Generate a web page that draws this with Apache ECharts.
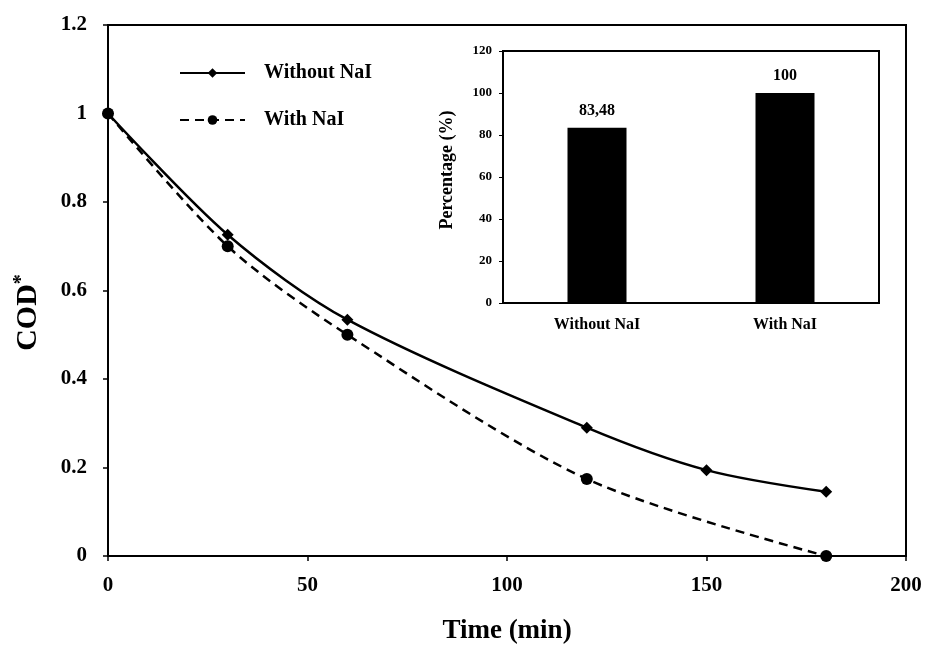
<!DOCTYPE html>
<html>
<head>
<meta charset="utf-8">
<script src="https://cdn.jsdelivr.net/npm/echarts@6/dist/echarts.min.js"></script>
<style>
  html, body { margin: 0; padding: 0; background: #fff; }
  #chart { width: 925px; height: 650px; }
</style>
</head>
<body>
<div id="chart"></div>
<script>
// COD* decay over time, with and without NaI
const timeWithout = [0, 30, 60, 120, 150, 180];
const codWithout = [1, 0.726, 0.534, 0.29, 0.194, 0.145];
const timeWith = [0, 30, 60, 120, 180];
const codWith = [1, 0.70, 0.50, 0.174, 0];

// Inset: removal percentage
const insetCategories = ['Without NaI', 'With NaI'];
const insetValues = [83.48, 100];

const seriesNames = ['Without NaI', 'With NaI'];

const serif = '"Liberation Serif", "Times New Roman", serif';
const black = '#000';

const zip = (xs, ys) => xs.map((x, i) => [x, ys[i]]);

const chart = echarts.init(document.getElementById('chart'));
chart.setOption({
  animation: false,
  backgroundColor: '#fff',
  textStyle: { fontFamily: serif, color: black },
  legend: {
    data: seriesNames,
    orient: 'vertical',
    left: 174,
    top: 58,
    itemWidth: 65,
    itemHeight: 12,
    itemGap: 27,
    textStyle: { fontFamily: serif, fontWeight: 'bold', fontSize: 20, color: black, padding: [0, 0, 0, 14] }
  },
  grid: [
    { left: 108, right: 19, top: 25, bottom: 88, show: true, borderColor: black, borderWidth: 2, backgroundColor: 'transparent' },
    { left: 503, right: 46, top: 51, bottom: 347, show: true, borderColor: black, borderWidth: 2, backgroundColor: '#fff', z: 5 }
  ],
  xAxis: [
    {
      gridIndex: 0, type: 'value', min: 0, max: 200, interval: 50,
      name: 'Time (min)', nameLocation: 'middle', nameGap: 62,
      nameTextStyle: { fontFamily: serif, fontWeight: 'bold', fontSize: 27, color: black },
      axisLine: { lineStyle: { color: black, width: 2 } },
      axisTick: { show: true, inside: false, length: 5, lineStyle: { color: black, width: 1.5 } },
      axisLabel: { fontFamily: serif, fontWeight: 'bold', fontSize: 21, color: black, margin: 19 },
      splitLine: { show: false }
    },
    {
      gridIndex: 1, type: 'category', data: insetCategories,
      axisLine: { lineStyle: { color: black, width: 2 } },
      axisTick: { show: false },
      axisLabel: { fontFamily: serif, fontWeight: 'bold', fontSize: 16, color: black, margin: 14 },
      splitLine: { show: false }
    }
  ],
  yAxis: [
    {
      gridIndex: 0, type: 'value', min: 0, max: 1.2, interval: 0.2,
      name: '{a|COD}{b|*}', nameLocation: 'middle', nameGap: 64, nameRotate: 90,
      nameTextStyle: {
        padding: [0, 44, 0, 0],
        rich: {
          a: { fontFamily: serif, fontWeight: 'bold', fontSize: 30, color: black },
          b: { fontFamily: serif, fontWeight: 'bold', fontSize: 20, color: black, verticalAlign: 'top', padding: [0, 0, 12, 0] }
        }
      },
      axisLine: { lineStyle: { color: black, width: 2 } },
      axisTick: { show: true, inside: false, length: 5, lineStyle: { color: black, width: 1.5 } },
      axisLabel: { fontFamily: serif, fontWeight: 'bold', fontSize: 21, color: black, margin: 21 },
      splitLine: { show: false }
    },
    {
      gridIndex: 1, type: 'value', min: 0, max: 120, interval: 20,
      name: 'Percentage (%)', nameLocation: 'middle', nameGap: 47, nameRotate: 90,
      nameTextStyle: { fontFamily: serif, fontWeight: 'bold', fontSize: 18, color: black, padding: [0, 0, 0, 14] },
      axisLine: { lineStyle: { color: black, width: 2 } },
      axisTick: { show: true, inside: false, length: 4, lineStyle: { color: black, width: 1 } },
      axisLabel: { fontFamily: serif, fontWeight: 'bold', fontSize: 13, color: black, margin: 11 },
      splitLine: { show: false }
    }
  ],
  series: [
    {
      name: seriesNames[0], type: 'line', xAxisIndex: 0, yAxisIndex: 0,
      data: zip(timeWithout, codWithout),
      smooth: 0.3,
      symbol: 'diamond', symbolSize: 12,
      lineStyle: { color: black, width: 2.5, type: 'solid' },
      itemStyle: { color: black },
      z: 3
    },
    {
      name: seriesNames[1], type: 'line', xAxisIndex: 0, yAxisIndex: 0,
      data: zip(timeWith, codWith),
      smooth: 0.3,
      symbol: 'circle', symbolSize: 12,
      lineStyle: { color: black, width: 2.5, type: [9, 6] },
      itemStyle: { color: black },
      z: 3
    },
    {
      name: 'Percentage', type: 'bar', xAxisIndex: 1, yAxisIndex: 1,
      data: insetValues,
      barWidth: 59,
      itemStyle: { color: black },
      label: {
        show: true, position: 'top', distance: 9,
        fontFamily: serif, fontWeight: 'bold', fontSize: 16, color: black,
        formatter: p => String(p.value).replace('.', ',')
      },
      z: 6
    }
  ]
});
</script>
</body>
</html>
